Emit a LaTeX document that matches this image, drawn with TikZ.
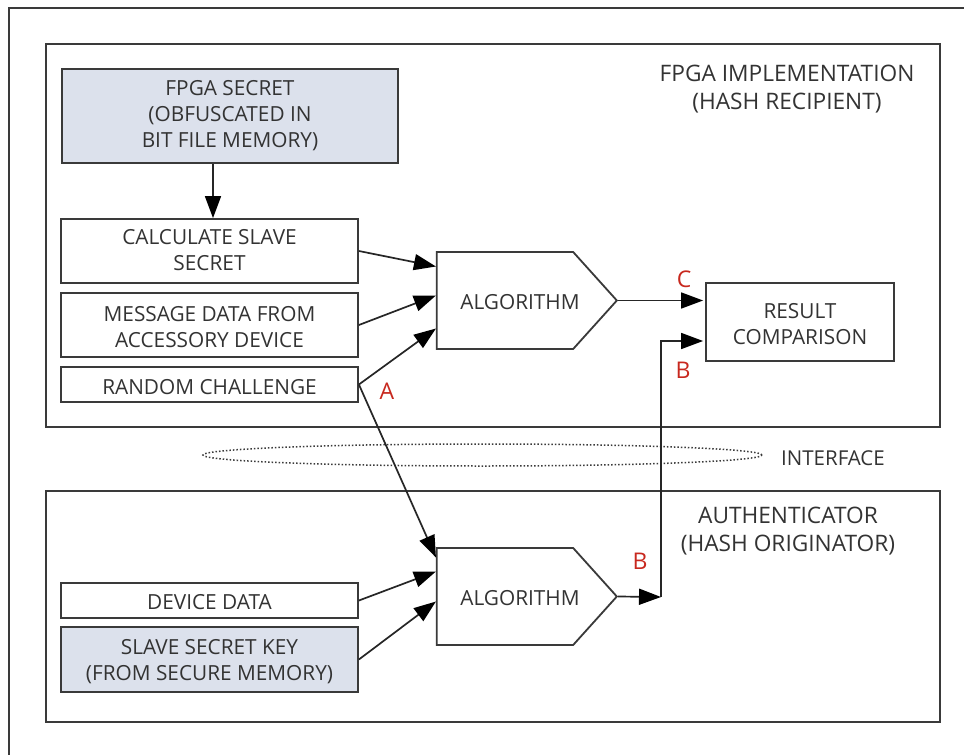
\documentclass[tikz,border=0pt]{standalone}
\usepackage{fontspec}
\setmainfont{Open Sans}
\usetikzlibrary{arrows.meta,shapes.symbols,shapes.geometric}
\definecolor{ink}{HTML}{333333}
\definecolor{linec}{HTML}{3A3A3A}
\definecolor{panel}{HTML}{DCE1EC}
\definecolor{redlab}{HTML}{C8281E}
\newcommand{\algotext}{\raisebox{-8.5pt}[0pt][0pt]{\makebox[0pt][c]{\hspace{30pt}ALGORITHM}}}
\newcommand{\dn}[2][2pt]{\raisebox{-#1}[\height][\depth]{#2}}
\tikzset{
  frame/.style={draw=linec,line width=1.8pt},
  container/.style={draw=linec,line width=1.8pt,minimum width=894pt,inner sep=0pt},
  box/.style={draw=linec,line width=1.8pt,inner sep=0pt,align=center,text=ink,font=\fontsize{20.8}{26}\selectfont,minimum width=297pt},
  secretbox/.style={box,fill=panel},
  algo/.style={signal,signal to=east,signal from=nowhere,draw=linec,line width=1.8pt,inner sep=0pt,
    minimum width=180pt,minimum height=97pt,signal pointer angle=96,text=ink,font=\fontsize{20.8}{26}\selectfont},
  title/.style={text=ink,align=center,inner sep=0pt,font=\fontsize{22.7}{28}\selectfont},
  redtag/.style={text=redlab,inner sep=0pt,font=\fontsize{23}{26}\selectfont},
  conn/.style={draw=black!85,line width=1.7pt,-{Triangle[length=22pt,width=16pt,color=black]}},
  iface/.style={ellipse,draw=linec,line width=1.5pt,dotted,inner sep=0pt,minimum width=559pt,minimum height=22pt}
}
\begin{document}
\begin{tikzpicture}[x=1pt,y=-1pt]
\useasboundingbox (0,0) rectangle (964,755);
\fill[white] (0,0) rectangle (964,755);
\draw[frame] (9,755) -- (9,8) -- (964,8);
\node[container,minimum height=383pt] (top) at (493,235.5) {};
\node[container,minimum height=231pt] (bottom) at (493,606.5) {};
\node[iface] (interface) at (482.5,455) {};
\node[title,font=\fontsize{20.5}{26}\selectfont] (ifacelabel) at (833,458) {INTERFACE};
\node[title] (toptitle) at (787,89) {FPGA IMPLEMENTATION\\(HASH RECIPIENT)};
\node[title] (bottomtitle) at (788,531) {AUTHENTICATOR\\(HASH ORIGINATOR)};
\node[secretbox,minimum width=336pt,minimum height=94pt] (fpga) at (230,116) {FPGA SECRET\\(OBFUSCATED IN\\BIT FILE MEMORY)};
\node[box,minimum height=64pt] (calc) at (209.5,251) {\dn[-1pt]{CALCULATE SLAVE}\\\dn[-1pt]{SECRET}};
\node[box,minimum height=64pt] (msg) at (209.5,325) {\dn{MESSAGE DATA FROM}\\\dn{ACCESSORY DEVICE}};
\node[box,minimum height=35pt] (rand) at (209.5,384.5) {\dn[2.5pt]{RANDOM CHALLENGE}};
\node[algo] (algA) at (505,300.5) {\algotext};
\node[box,minimum width=188pt,minimum height=78pt] (result) at (800,322) {\dn{RESULT}\\\dn{COMPARISON}};
\node[box,minimum height=35pt] (dev) at (209.5,600.5) {\dn[1.5pt]{DEVICE DATA}};
\node[secretbox,minimum height=65pt] (slave) at (209.5,659.5) {\dn{SLAVE SECRET KEY}\\\dn{(FROM SECURE MEMORY)}};
\node[algo] (algB) at (505,596.5) {\algotext};
\coordinate (junction) at (661,597);
\coordinate (calcin) at ([xshift=3.5pt]calc.north);
\coordinate (resultB) at ([yshift=-19pt,xshift=-2pt]result.west);
\coordinate (resultC) at (result.west |- algA.east);
\node[redtag] (tagA) at (387,391) {A};
\node[redtag] (tagC) at (684,279) {C};
\node[redtag] (tagB1) at (683,370) {B};
\node[redtag] (tagB2) at (640,561) {B};
\draw[conn] (calcin |- fpga.south) -- (calcin);
\draw[conn] (calc.east) -- ([yshift=34pt]algA.west);
\draw[conn] (msg.east) -- ([yshift=5pt]algA.west);
\draw[conn] (rand.east) -- ([yshift=-28pt]algA.west);
\draw[conn] (rand.east) -- ([yshift=39pt]algB.west);
\draw[conn] (dev.east) -- ([yshift=25pt]algB.west);
\draw[conn] (slave.east) -- ([yshift=-5pt]algB.west);
\draw[conn] (algA.east) -- ([xshift=-2pt]resultC);
\draw[conn] (algB.east) -- (junction);
\draw[conn] (junction) |- (resultB);
\end{tikzpicture}
\end{document}
